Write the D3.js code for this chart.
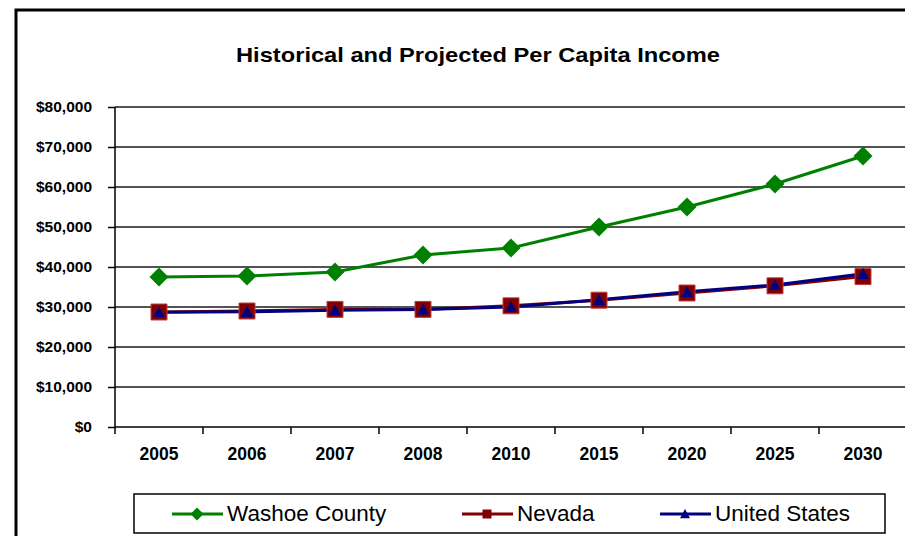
<!DOCTYPE html>
<html lang="en">
<head>
    <meta charset="UTF-8">
    <title>per capita income</title>
    <script src="https://d3js.org/d3.v7.min.js"></script>
    <style>
        body { margin: 0; background: white; }
        svg { display: block; font-family: "Liberation Sans", Arial, sans-serif; }
        .grid line { stroke: #1a1a1a; stroke-width: 1.5; }
        .axis text { font-weight: bold; fill: #000; }
        .axis path, .axis line { stroke: #000; stroke-width: 1.5; }
    </style>
</head>
<body>
    <div id="chart"></div>
    <script>
        // data
        const years = ['2005', '2006', '2007', '2008', '2010', '2015', '2020', '2025', '2030']
        const washoe = [37500, 37750, 38750, 43000, 44750, 50000, 55000, 60750, 67750]
        const nevada = [28750, 29000, 29400, 29400, 30300, 31700, 33500, 35300, 37600]
        const usa = [28700, 28800, 29200, 29400, 30000, 31800, 33800, 35500, 38300]
        const yTicks = [0, 10000, 20000, 30000, 40000, 50000, 60000, 70000, 80000]

        const series = [
            { name: 'Washoe County', values: washoe, color: '#008000', marker: 'diamond' },
            { name: 'Nevada', values: nevada, color: '#800000', marker: 'square' },
            { name: 'United States', values: usa, color: '#000080', marker: 'triangle' }
        ]

        const WIDTH = 905
        const HEIGHT = 536
        const plot = { left: 115, top: 107, right: 907, bottom: 427 }

        const svg = d3.select('#chart').append('svg')
            .attr('width', WIDTH).attr('height', HEIGHT)

        // outer frame
        svg.append('rect')
            .attr('x', 16).attr('y', 10)
            .attr('width', WIDTH + 20).attr('height', HEIGHT + 20)
            .attr('fill', 'white').attr('stroke', '#000').attr('stroke-width', 3)

        svg.append('text')
            .attr('x', 478).attr('y', 62)
            .attr('text-anchor', 'middle')
            .attr('font-weight', 'bold').attr('font-size', 21)
            .attr('textLength', 484).attr('lengthAdjust', 'spacingAndGlyphs')
            .text('Historical and Projected Per Capita Income')

        const x = d3.scaleBand().domain(years).range([plot.left, plot.right])
        const y = d3.scaleLinear().domain([0, 80000]).range([plot.bottom, plot.top])

        // gridlines
        svg.append('g').attr('class', 'grid')
            .selectAll('line').data(yTicks.slice(1)).enter()
            .append('line')
            .attr('x1', plot.left).attr('x2', WIDTH)
            .attr('y1', d => y(d)).attr('y2', d => y(d))

        // y axis
        const yAxis = svg.append('g').attr('class', 'axis')
            .attr('transform', `translate(${plot.left},0)`)
            .call(d3.axisLeft(y).tickValues(yTicks).tickSize(7).tickPadding(16)
                .tickFormat(d => '$' + d3.format(',')(d)))
        yAxis.attr('font-size', 15.5)
        yAxis.select('.domain').attr('d', `M0,${plot.top}V${plot.bottom}`)

        // x axis with ticks between categories
        const xAxis = svg.append('g').attr('class', 'axis')
            .attr('transform', `translate(0,${plot.bottom})`)
            .attr('font-size', 17.5)
        xAxis.append('line').attr('x1', plot.left).attr('x2', WIDTH)
        xAxis.selectAll('.tk').data(years).enter()
            .append('line').attr('class', 'tk')
            .attr('x1', d => x(d)).attr('x2', d => x(d))
            .attr('y1', 0).attr('y2', 7)
        xAxis.selectAll('text').data(years).enter()
            .append('text')
            .attr('x', d => x(d) + x.bandwidth() / 2)
            .attr('y', 33)
            .attr('text-anchor', 'middle')
            .text(d => d)

        const cx = d => x(d) + x.bandwidth() / 2
        const line = d3.line().x((v, i) => cx(years[i])).y(v => y(v))

        const markerPath = (type, s) => {
            if (type === 'diamond') return `M0,${-s}L${s},0L0,${s}L${-s},0Z`
            if (type === 'square') return `M${-s},${-s}H${s}V${s}H${-s}Z`
            return `M0,${-s}L${s},${s * 0.85}H${-s}Z`
        }

        series.forEach(s => {
            svg.append('path')
                .attr('d', line(s.values))
                .attr('fill', 'none').attr('stroke', s.color).attr('stroke-width', 3)
        })
        series.forEach(s => {
            s.values.forEach((v, i) => {
                const g = svg.append('g').attr('transform', `translate(${cx(years[i])},${y(v)})`)
                if (s.marker === 'diamond') {
                    g.append('path').attr('d', markerPath('diamond', 9.5)).attr('fill', s.color)
                } else if (s.marker === 'square') {
                    g.append('path').attr('d', markerPath('square', 8)).attr('fill', s.color)
                        .attr('stroke', '#c04040').attr('stroke-width', 1)
                } else {
                    g.append('path').attr('d', markerPath('triangle', 6)).attr('fill', s.color)
                }
            })
        })

        // legend
        svg.append('rect')
            .attr('x', 134).attr('y', 494).attr('width', 751).attr('height', 39)
            .attr('fill', 'white').attr('stroke', '#000').attr('stroke-width', 1.5)
        const legendX = [172, 462, 660]
        series.forEach((s, i) => {
            const g = svg.append('g').attr('transform', `translate(${legendX[i]},514)`)
            g.append('line').attr('x1', 0).attr('x2', 51)
                .attr('stroke', s.color).attr('stroke-width', 3)
            const m = g.append('g').attr('transform', 'translate(25,0)')
            if (s.marker === 'diamond') m.append('path').attr('d', markerPath('diamond', 6.5)).attr('fill', s.color)
            else if (s.marker === 'square') m.append('path').attr('d', markerPath('square', 4.5)).attr('fill', s.color)
            else m.append('path').attr('d', markerPath('triangle', 5)).attr('fill', s.color)
            g.append('text').attr('x', 55).attr('y', 7)
                .attr('font-size', 22.5).text(s.name)
        })
    </script>
</body>
</html>
